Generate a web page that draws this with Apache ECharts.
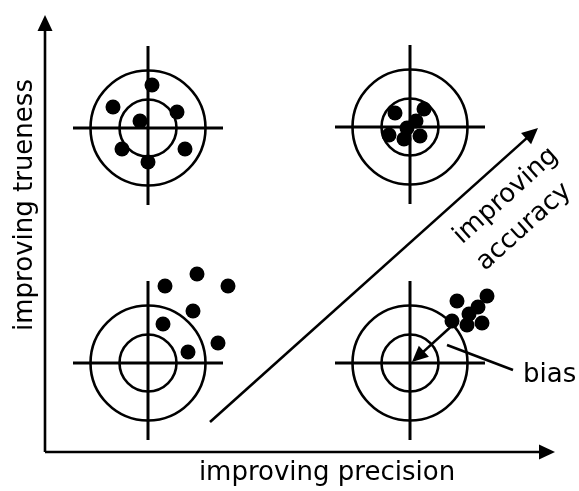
<!DOCTYPE html>
<html>
<head>
<meta charset="utf-8">
<script src="https://cdn.jsdelivr.net/npm/echarts@6/dist/echarts.min.js"></script>
<style>html,body{margin:0;padding:0;background:#fff;}#chart{width:579px;height:491px;}</style>
</head>
<body>
<div id="chart"></div>
<script>
// Target centres (diagram units: x right, y down)
var targetCenters = [[148,128],[410,127],[148,363],[410,363]];
// Shots per target
var shotsTopLeft = [[152,85],[113,107],[177,112],[140,121],[122,149],[185,149],[148,162]];
var shotsTopRight = [[395,113],[424,109],[416,121],[407,128],[389,135],[404,139],[420,136]];
var shotsBottomLeft = [[165,286],[197,274],[228,286],[193,311],[163,324],[218,343],[188,352]];
var shotsBottomRight = [[457,301],[487,296],[478,307],[469,314],[452,321],[467,325],[482,323]];
// Arrows / lines: [x1, y1, x2, y2, hasHead]
var arrowSegments = [
  [45,452,45,15,1],
  [45,452,555,452,1],
  [210,422,538,128,1],
  [455,323,412,362,1],
  [447,345,513,370,0]
];
// Labels
var labelTexts = ['improving precision','improving trueness','improving','accuracy','bias'];

var chart = echarts.init(document.getElementById('chart'), null, {renderer:'canvas'});
var allShots = shotsTopLeft.concat(shotsTopRight, shotsBottomLeft, shotsBottomRight);
var FONT = '"DejaVu Sans", Verdana, sans-serif';

function targetRender(params, api){
  var c = api.coord([api.value(0), api.value(1)]);
  var s = api.size([1,1]);
  var kx = s[0], ky = s[1];
  var lw = 2.6;
  return {type:'group', children:[
    {type:'circle', shape:{cx:c[0], cy:c[1], r:57.5*kx}, style:{fill:null, stroke:'#000', lineWidth:lw}},
    {type:'circle', shape:{cx:c[0], cy:c[1], r:28.5*kx}, style:{fill:null, stroke:'#000', lineWidth:lw}},
    {type:'line', shape:{x1:c[0]-75*kx, y1:c[1], x2:c[0]+75*kx, y2:c[1]}, style:{stroke:'#000', lineWidth:3}},
    {type:'line', shape:{x1:c[0], y1:c[1]-82*ky, x2:c[0], y2:c[1]+77*ky}, style:{stroke:'#000', lineWidth:3}}
  ]};
}

function arrowRender(params, api){
  var p1 = api.coord([api.value(0), api.value(1)]);
  var p2 = api.coord([api.value(2), api.value(3)]);
  var hasHead = api.value(4);
  var children = [];
  var end = p2;
  if (hasHead){
    var dx = p2[0]-p1[0], dy = p2[1]-p1[1], L = Math.sqrt(dx*dx+dy*dy);
    var ux = dx/L, uy = dy/L, hl = 16, hw = 7.5;
    var bx = p2[0]-ux*hl, by = p2[1]-uy*hl;
    children.push({type:'polygon', shape:{points:[[p2[0],p2[1]],[bx-uy*hw,by+ux*hw],[bx+uy*hw,by-ux*hw]]}, style:{fill:'#000'}});
    end = [bx+ux*2, by+uy*2];
  }
  children.unshift({type:'line', shape:{x1:p1[0], y1:p1[1], x2:end[0], y2:end[1]}, style:{stroke:'#000', lineWidth:2.6}});
  return {type:'group', children:children};
}

var option = {
  animation:false,
  backgroundColor:'#fff',
  grid:{left:0, right:0, top:0, bottom:0},
  xAxis:{type:'value', min:0, max:579, show:false},
  yAxis:{type:'value', min:0, max:491, inverse:true, show:false},
  series:[
    {type:'custom', renderItem:targetRender, data:targetCenters, clip:false, silent:true},
    {type:'custom', renderItem:arrowRender, data:arrowSegments, clip:false, silent:true},
    {type:'scatter', data:allShots, symbol:'circle', symbolSize:15, itemStyle:{color:'#000', opacity:1}, silent:true}
  ],
  graphic:[
    {type:'text', x:327, y:473, style:{text:labelTexts[0], font:'26px '+FONT, fill:'#000', textAlign:'center', textVerticalAlign:'middle'}},
    {type:'text', x:25, y:205, rotation:Math.PI/2, style:{text:labelTexts[1], font:'26px '+FONT, fill:'#000', textAlign:'center', textVerticalAlign:'middle'}},
    {type:'text', x:506, y:196, rotation:42*Math.PI/180, style:{text:labelTexts[2], font:'26px '+FONT, fill:'#000', textAlign:'center', textVerticalAlign:'middle'}},
    {type:'text', x:524, y:227, rotation:42*Math.PI/180, style:{text:labelTexts[3], font:'26px '+FONT, fill:'#000', textAlign:'center', textVerticalAlign:'middle'}},
    {type:'text', x:523, y:375, style:{text:labelTexts[4], font:'26px '+FONT, fill:'#000', textAlign:'left', textVerticalAlign:'middle'}}
  ]
};
chart.setOption(option);
</script>
</body>
</html>
